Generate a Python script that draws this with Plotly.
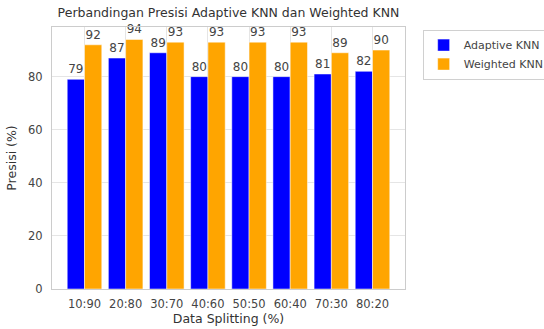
import plotly.graph_objects as go

categories = ["10:90", "20:80", "30:70", "40:60", "50:50", "60:40", "70:30", "80:20"]
adaptive_knn = [79, 87, 89, 80, 80, 80, 81, 82]
weighted_knn = [92, 94, 93, 93, 93, 93, 89, 90]

font_family = "DejaVu Sans"
txt = "#444444"

fig = go.Figure()
fig.add_trace(go.Bar(
    x=categories, y=adaptive_knn, name="Adaptive KNN",
    marker=dict(color="#0000ff", line=dict(color="white", width=0.5)),
    text=adaptive_knn, textposition="outside", cliponaxis=False,
    textfont=dict(size=12, color=txt, family=font_family),
))
fig.add_trace(go.Bar(
    x=categories, y=weighted_knn, name="Weighted KNN",
    marker=dict(color="#ffa500", line=dict(color="white", width=0.5)),
    text=weighted_knn, textposition="outside", cliponaxis=False,
    textfont=dict(size=12, color=txt, family=font_family),
))

fig.update_layout(
    width=544, height=329,
    margin=dict(l=52, r=139, t=27, b=40, autoexpand=False),
    paper_bgcolor="white", plot_bgcolor="white",
    barmode="group", bargap=0.16, bargroupgap=0,
    font=dict(family=font_family, size=11, color=txt),
    title=dict(text="Perbandingan Presisi Adaptive KNN dan Weighted KNN",
               x=0.5, xref="paper", xanchor="center",
               y=1 - 13 / 329, yref="container", yanchor="middle",
               font=dict(size=12.5, color="#333333", family=font_family)),
    legend=dict(x=1.05, y=0.99, xanchor="left", yanchor="top",
                bordercolor="#d0d0d0", borderwidth=1, bgcolor="white",
                font=dict(size=11, color=txt, family=font_family),
                tracegroupgap=0, itemwidth=30),
)
fig.update_xaxes(
    range=[-0.79, 7.79], showgrid=True, gridcolor="#e5e5e5",
    showline=True, linecolor="#cccccc", linewidth=1, mirror=True,
    ticks="", ticklabelstandoff=4, tickfont=dict(size=11.5, color=txt),
    title=dict(text="Data Splitting (%)", font=dict(size=12.5, color="#333333"), standoff=2),
)
fig.update_yaxes(
    range=[0, 98.7], tickvals=[0, 20, 40, 60, 80],
    showgrid=True, gridcolor="#e5e5e5", zeroline=False,
    showline=True, linecolor="#cccccc", linewidth=1, mirror=True,
    ticks="", ticklabelstandoff=6, tickfont=dict(size=11.5, color=txt),
    title=dict(text="Presisi (%)", font=dict(size=12.5, color="#333333"), standoff=8),
)

fig.write_html("out.html", config={"displayModeBar": False},
               post_script="document.body.style.margin='0';document.body.style.overflow='hidden';")
